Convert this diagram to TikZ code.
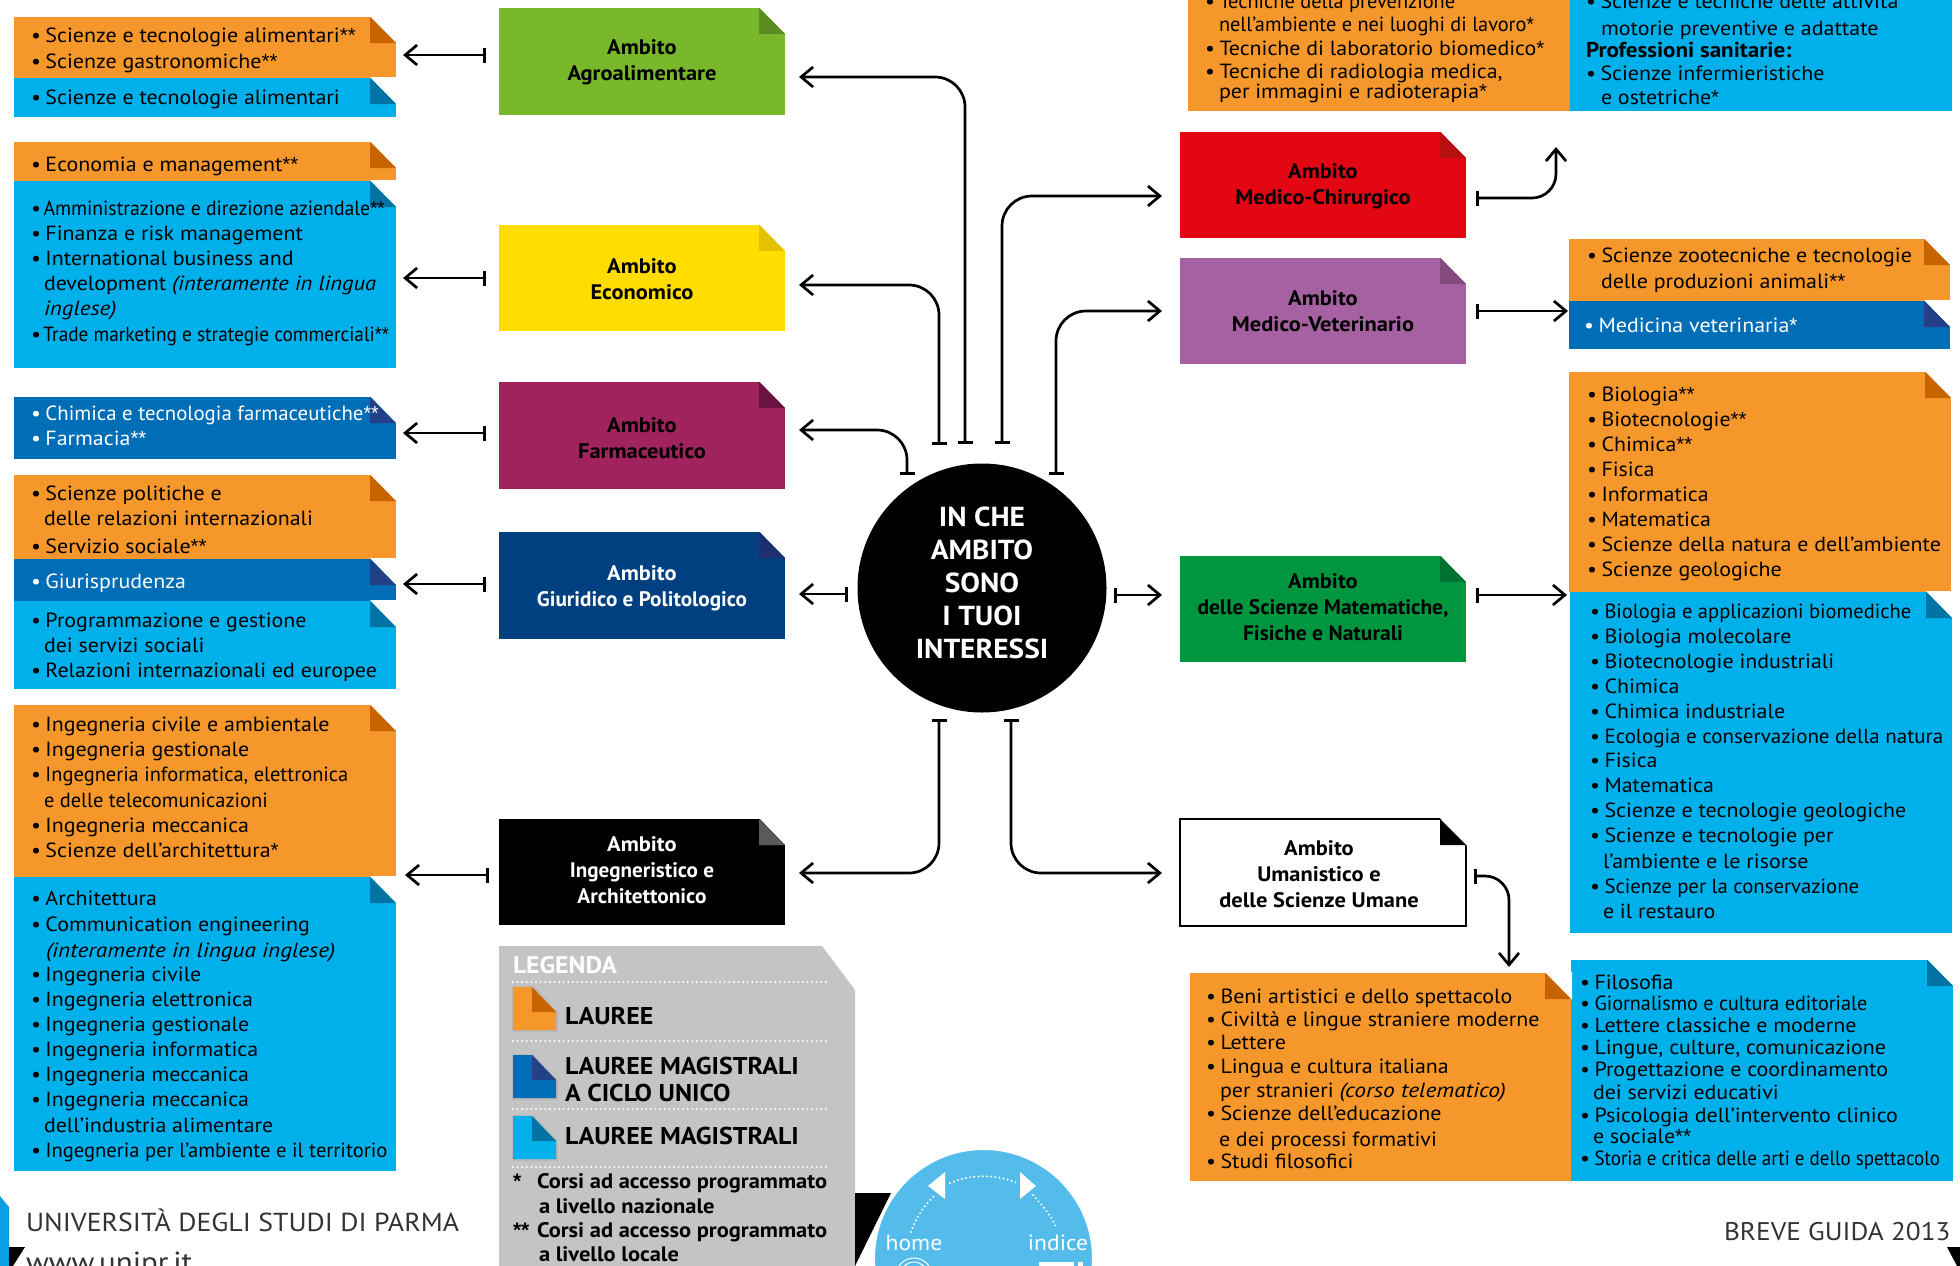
\documentclass[tikz,border=0pt]{standalone}
\usepackage{fontspec}
\usepackage{graphicx}
\setmainfont[FakeStretch=1.07]{PT Sans}
\newfontfamily\starf{Liberation Sans}
\newcommand{\st}{{\starf *}}
\usetikzlibrary{arrows.meta,calc}
\definecolor{ora}{HTML}{F5972A}\definecolor{oraD}{HTML}{C76400}
\definecolor{lbl}{HTML}{00B0EB}\definecolor{lblD}{HTML}{0072A3}
\definecolor{dbl}{HTML}{006DB7}\definecolor{dblD}{HTML}{244086}
\definecolor{agr}{HTML}{78B82A}\definecolor{agrD}{HTML}{5A8C20}
\definecolor{eco}{HTML}{FFDD00}\definecolor{ecoD}{HTML}{E3C300}
\definecolor{far}{HTML}{A0235E}\definecolor{farD}{HTML}{6A1340}
\definecolor{giu}{HTML}{004080}\definecolor{giuD}{HTML}{1C2F6E}
\definecolor{med}{HTML}{E30613}\definecolor{medD}{HTML}{B50F10}
\definecolor{vet}{HTML}{A661A3}\definecolor{vetD}{HTML}{844A80}
\definecolor{sci}{HTML}{009640}\definecolor{sciD}{HTML}{007332}
\definecolor{ingD}{HTML}{5A5A5A}
\definecolor{leg}{HTML}{C4C4C4}
\definecolor{nav}{HTML}{53BCEB}
\definecolor{foot}{HTML}{0A9FE0}
\newcount\tn
\newcommand{\plainb}[7][]{\node[boxn,fill=#7,minimum width={(#5-#3)*1pt},minimum height={(#6-#4)*1pt},#1] (#2) at ({(#3+#5)/2},{(#4+#6)/2}) {};}
\newcommand{\foldb}[8][]{\node[boxn,fill=#7,minimum width={(#5-#3)*1pt},minimum height={(#6-#4)*1pt},#1] (#2) at ({(#3+#5)/2},{(#4+#6)/2}) {};
 \fill[white] (#2.north east) ++(-26,-1) -- ++(27,0) -- ++(0,28) -- cycle;
 \fill[#8] (#2.north east) ++(-26,0) -- ++(26,26) -- ++(-26,0) -- cycle;}
\newcommand{\tl}[4][]{\global\advance\tn by 1 \node[txt,#1] (t\the\tn) at (#2,#3) {#4};}
\newcommand{\li}[4][]{\global\advance\tn by 1 \node[txt,#1] (t\the\tn) at (#2,#3) {\makebox[14.5pt][l]{•}#4};}
\newcommand{\cz}[2]{\scalebox{#1}[1]{#2}}
\tikzset{
 boxn/.style={rectangle,inner sep=0pt,outer sep=0pt,align=center,font=\fontsize{21}{26}\selectfont\bfseries},
 txt/.style={anchor=base west,inner sep=0pt,outer sep=0pt,font=\fontsize{20.5}{25}\selectfont},
 wht/.style={text=white},
 conn/.style={line width=2.7pt,rounded corners=30pt,{Bar[width=15pt,line width=2.7pt]}-{Straight Barb[length=12pt,width=20pt,line width=2.7pt]}},
 leglab/.style={txt,font=\fontsize{24.3}{28}\selectfont\bfseries},
 notes/.style={txt,font=\fontsize{21}{24}\selectfont\bfseries},
 dots/.style={white,line width=2.2pt,line cap=round,dash pattern=on 0pt off 4.6pt},
 foottxt/.style={txt,text=black!80,font=\fontsize{26}{30}\selectfont}
}
\begin{document}
\begin{tikzpicture}[x=1pt,y=-1pt]
\useasboundingbox (0,0) rectangle (1960,1266);
\clip (0,0) rectangle (1960,1266);
% ---- list boxes, left
\foldb{a1}{14}{17}{396}{78}{ora}{oraD}
\foldb{a2}{14}{78}{396}{117}{lbl}{lblD}
\foldb{b1}{14}{142}{396}{181}{ora}{oraD}
\foldb{b2}{14}{181}{396}{368}{lbl}{lblD}
\foldb{c1}{14}{397}{396}{459}{dbl}{dblD}
\foldb{d1}{14}{475}{396}{559}{ora}{oraD}
\foldb{d2}{14}{559}{396}{601}{dbl}{dblD}
\foldb{d3}{14}{601}{396}{689}{lbl}{lblD}
\foldb{e1}{14}{705}{396}{877}{ora}{oraD}
\foldb{e2}{14}{877}{396}{1171}{lbl}{lblD}
% ---- list boxes, right
\plainb{f1}{1188}{0}{1570}{111}{ora}
\plainb{f2}{1570}{0}{1952}{111}{lbl}
\foldb{g1}{1569}{239}{1950}{301}{ora}{oraD}
\foldb{g2}{1569}{301}{1950}{349}{dbl}{dblD}
\foldb{h1}{1569}{372}{1951}{592}{ora}{oraD}
\foldb{h2}{1570}{592}{1952}{933}{lbl}{lblD}
\foldb{i2}{1571}{960}{1953}{1181}{lbl}{lblD}
\foldb{i1}{1190}{973}{1571}{1181}{ora}{oraD}
% ---- ambito boxes
\foldb{agro}{499}{8}{785}{115}{agr}{agrD}
\foldb{econ}{499}{225}{785}{331}{eco}{ecoD}
\foldb{farm}{499}{382}{785}{489}{far}{farD}
\foldb{giur}{499}{532}{785}{639}{giu}{giuD}
\foldb{inge}{499}{819}{785}{925}{black}{ingD}
\foldb{chir}{1180}{132}{1466}{238}{med}{medD}
\foldb{vete}{1180}{258}{1466}{364}{vet}{vetD}
\foldb{scie}{1180}{556}{1466}{662}{sci}{sciD}
\foldb[draw=black,line width=1.4pt]{uman}{1180}{819}{1466}{926}{white}{black}
\node[boxn] (agrotxt) at (642,62.7) {Ambito\\Agroalimentare};
\node[boxn] (econtxt) at (642,279) {Ambito\\Economico};
\node[boxn] (farmtxt) at (642,438.5) {Ambito\\Farmaceutico};
\node[boxn,text=white] (giurtxt) at (642,588) {Ambito\\\cz{.943}{Giuridico e Politologico}};
\node[boxn,text=white] (ingetxt) at (642,870) {Ambito\\\cz{.94}{Ingegneristico e}\\\cz{.95}{Architettonico}};
\node[boxn] (chirtxt) at (1323,186) {Ambito\\Medico-Chirurgico};
\node[boxn] (vetetxt) at (1323,311) {Ambito\\Medico-Veterinario};
\node[boxn] (scietxt) at (1323,607) {Ambito\\\cz{.955}{delle Scienze Matematiche,}\\\cz{.96}{Fisiche e Naturali}};
\node[boxn] (umantxt) at (1319,874) {Ambito\\Umanistico e\\delle Scienze Umane};
% ---- hub
\node[circle,fill=black,minimum size=249pt,inner sep=0pt] (hub) at (982,588) {};
\node[text=white,inner sep=0pt,align=center,font=\fontsize{27.5}{33}\selectfont\bfseries] (hubtxt) at (982,583) {IN CHE\\AMBITO\\SONO\\I TUOI\\INTERESSI};
% ---- list text, left
\li{31}{42}{Scienze e tecnologie alimentari\st\st}
\li{31}{68}{Scienze gastronomiche\st\st}
\li{31}{104}{Scienze e tecnologie alimentari}
\li{31}{171}{Economia e management\st\st}
\li{31}{215}{\hspace*{-2pt}\cz{.9}{Amministrazione e direzione aziendale\st\st}}
\li{31}{240}{Finanza e risk management}
\li{31}{265}{International business and}
\tl{44}{290}{development \cz{1.03}{\textit{(interamente in lingua}}}
\tl{44}{315}{\cz{1.05}{\textit{inglese)}}}
\li{31}{341}{\hspace*{-2pt}\cz{.88}{Trade marketing e strategie commerciali\st\st}}
\li[wht]{31}{420}{\cz{.95}{Chimica e tecnologia farmaceutiche\st\st}}
\li[wht]{31}{445}{Farmacia\st\st}
\li{31}{500}{Scienze politiche e}
\tl{44}{525}{delle relazioni internazionali}
\li{31}{553}{Servizio sociale\st\st}
\li[wht]{31}{588}{Giurisprudenza}
\li{31}{627}{Programmazione e gestione}
\tl{44}{652}{dei servizi sociali}
\li{31}{677}{Relazioni internazionali ed europee}
\li{31}{731}{Ingegneria civile e ambientale}
\li{31}{756}{Ingegneria gestionale}
\li{31}{781}{\cz{.932}{Ingegneria informatica, elettronica}}
\tl{44}{807}{\cz{.932}{e delle telecomunicazioni}}
\li{31}{832}{Ingegneria meccanica}
\li{31}{857}{Scienze dell'architettura\st}
\li{31}{905}{Architettura}
\li{31}{931}{Communication engineering}
\tl{46}{957}{\cz{1.06}{\textit{(interamente in lingua inglese)}}}
\li{31}{981}{Ingegneria civile}
\li{31}{1006}{Ingegneria elettronica}
\li{31}{1031}{Ingegneria gestionale}
\li{31}{1056}{Ingegneria informatica}
\li{31}{1081}{Ingegneria meccanica}
\li{31}{1106}{Ingegneria meccanica}
\tl{44}{1132}{dell'industria alimentare}
\li{31}{1157}{\cz{.94}{Ingegneria per l'ambiente e il territorio}}
% ---- list text, right
\li{1205}{9}{\cz{.93}{Tecniche della prevenzione}}
\tl{1219}{31}{\cz{.926}{nell'ambiente e nei luoghi di lavoro\st}}
\li{1205}{55}{Tecniche di laboratorio biomedico\st}
\li{1205}{78}{Tecniche di radiologia medica,}
\tl{1219}{98}{per immagini e radioterapia\st}
\li{1586}{9}{Scienze e tecniche delle attività}
\tl{1601}{35}{motorie preventive e adattate}
\tl[font=\fontsize{21.5}{25}\selectfont\bfseries]{1586}{57}{Professioni sanitarie:}
\li{1586}{80}{Scienze infermieristiche}
\tl{1601}{104}{e ostetriche\st}
\li{1587}{262}{Scienze zootecniche e tecnologie}
\tl{1601}{288}{delle produzioni animali\st\st}
\li[wht]{1584}{332}{Medicina veterinaria\st}
\li{1587}{401}{Biologia\st\st}
\li{1587}{426}{Biotecnologie\st\st}
\li{1587}{451}{Chimica\st\st}
\li{1587}{476}{Fisica}
\li{1587}{501}{Informatica}
\li{1587}{526}{Matematica}
\li{1587}{551}{Scienze della natura e dell'ambiente}
\li{1587}{576}{Scienze geologiche}
\li{1590}{618}{\cz{.935}{Biologia e applicazioni biomediche}}
\li{1590}{643}{Biologia molecolare}
\li{1590}{668}{Biotecnologie industriali}
\li{1590}{693}{Chimica}
\li{1590}{718}{Chimica industriale}
\li{1590}{743}{\cz{.956}{Ecologia e conservazione della natura}}
\li{1590}{767}{Fisica}
\li{1590}{792}{Matematica}
\li{1590}{817}{Scienze e tecnologie geologiche}
\li{1590}{842}{Scienze e tecnologie per}
\tl{1603}{868}{l'ambiente e le risorse}
\li{1590}{893}{\cz{.945}{Scienze per la conservazione}}
\tl{1603}{918}{e il restauro}
\li{1206}{1003}{Beni artistici e dello spettacolo}
\li{1206}{1026}{Civiltà e lingue straniere moderne}
\li{1206}{1049}{Lettere}
\li{1206}{1073}{Lingua e cultura italiana}
\tl{1220}{1097}{per stranieri \cz{1.07}{\textit{(corso telematico)}}}
\li{1206}{1120}{Scienze dell'educazione}
\tl{1219}{1146}{e dei processi formativi}
\li{1206}{1168}{Studi filosofici}
\li{1580}{989}{Filosofia}
\li{1580}{1010}{\cz{.92}{Giornalismo e cultura editoriale}}
\li{1580}{1032}{Lettere classiche e moderne}
\li{1580}{1054}{Lingue, culture, comunicazione}
\li{1580}{1076}{Progettazione e coordinamento}
\tl{1593}{1099}{dei servizi educativi}
\li{1580}{1122}{Psicologia dell'intervento clinico}
\tl{1593}{1143}{e sociale\st\st}
\li{1580}{1165}{\cz{.865}{Storia e critica delle arti e dello spettacolo}}
% ---- legend
\fill[leg] (499,946) -- (822,946) -- (855,990) -- (855,1266) -- (499,1266) -- cycle;
\fill[black] (855,1193) -- (891,1193) -- (855,1266) -- cycle;
\tl[wht,font=\fontsize{24}{28}\selectfont\bfseries]{513}{973}{LEGENDA}
\draw[dots] (513,982) -- (830,982);
\draw[dots] (513,1041) -- (830,1041);
\draw[dots] (513,1109) -- (830,1109);
\draw[dots] (513,1167) -- (830,1167);
\fill[black!28] (511.5,985.5) rectangle (557.5,1031.5);
\fill[black!28] (511.5,1053.5) rectangle (557.5,1099.5);
\fill[black!28] (511.5,1114.5) rectangle (557.5,1160.5);
\fill[leg] (532,984) -- (558,984) -- (558,1012) -- cycle;
\fill[leg] (532,1052) -- (558,1052) -- (558,1080) -- cycle;
\fill[leg] (532,1113) -- (558,1113) -- (558,1141) -- cycle;
\fill[ora] (513,987) -- (532,987) -- (556,1012) -- (556,1030) -- (513,1030) -- cycle;
\fill[oraD] (532,987) -- (556,1012) -- (532,1012) -- cycle;
\fill[dbl] (513,1055) -- (532,1055) -- (556,1080) -- (556,1098) -- (513,1098) -- cycle;
\fill[dblD] (532,1055) -- (556,1080) -- (532,1080) -- cycle;
\fill[lbl] (513,1116) -- (532,1116) -- (556,1141) -- (556,1159) -- (513,1159) -- cycle;
\fill[lblD] (532,1116) -- (556,1141) -- (532,1141) -- cycle;
\tl[leglab]{565}{1024}{LAUREE}
\tl[leglab]{565}{1074}{LAUREE MAGISTRALI}
\tl[leglab]{565}{1101}{A CICLO UNICO}
\tl[leglab]{565}{1144}{LAUREE MAGISTRALI}
\tl[notes]{513}{1188}{\st}
\tl[notes]{537}{1188}{Corsi ad accesso programmato}
\tl[notes]{539}{1213}{a livello nazionale}
\tl[notes]{513}{1237}{\st\st}
\tl[notes]{537}{1237}{Corsi ad accesso programmato}
\tl[notes]{539}{1261}{a livello locale}
% ---- navigation disc
\node[circle,fill=nav,draw=white,line width=2pt,minimum size=219pt,inner sep=0pt] (disc) at (983.5,1258.5) {};
\fill[white] (945,1172) -- (945,1199) -- (928,1186) -- cycle;
\fill[white] (1020,1172) -- (1020,1199) -- (1036,1186) -- cycle;
\draw[dots,dash pattern=on 0pt off 4.2pt] (911,1232) .. controls (917,1215) and (925,1205) .. (935,1195);
\draw[dots,dash pattern=on 0pt off 4.2pt] (950,1183) .. controls (970,1174) and (997,1174) .. (1017,1183);
\draw[dots,dash pattern=on 0pt off 4.2pt] (1033,1195) .. controls (1042,1205) and (1051,1215) .. (1056,1227);
\node[txt,wht,anchor=base,font=\fontsize{22}{28}\selectfont] (homet) at (914,1250) {home};
\node[txt,wht,anchor=base,font=\fontsize{22}{28}\selectfont] (indicet) at (1058,1250) {indice};
\node[circle,draw=white,line width=1pt,minimum size=36pt,inner sep=0pt] (seal) at (914,1276) {};
\node[circle,draw=white,line width=1pt,minimum size=28pt,inner sep=0pt] (sealin) at (914,1276) {};
\fill[white] (1039,1262) rectangle (1074,1266);
\fill[white] (1078,1262) rectangle (1083,1266);
% ---- footer
\fill[foot] (0,1196) -- (9,1207) -- (9,1266) -- (0,1266) -- cycle;
\fill[black] (9,1247) -- (25,1247) -- (13,1266) -- (9,1266) -- cycle;
\tl[foottxt]{26}{1231}{UNIVERSITÀ DEGLI STUDI DI PARMA}
\tl[foottxt,font=\fontsize{29}{34}\selectfont]{26}{1272}{www.unipr.it}
\tl[foottxt,font=\fontsize{25.5}{30}\selectfont]{1724}{1240}{BREVE GUIDA 2013}
\fill[black] (1947,1247) -- (1960,1247) -- (1960,1266) -- (1957,1266) -- cycle;
% ---- connector ends
\coordinate (pa1) at (486,55);\coordinate (qa1) at (403,55);
\coordinate (pa2) at (486,278);\coordinate (qa2) at (403,278);
\coordinate (pa3) at (486,433);\coordinate (qa3) at (403,433);
\coordinate (pa4) at (486,584);\coordinate (qa4) at (403,584);
\coordinate (pa5) at (489,875);\coordinate (qa5) at (405,875);
\coordinate (hA) at (965,444);\coordinate (agroP) at (799,77);
\coordinate (hE) at (939,445);\coordinate (econP) at (799,285);
\coordinate (hF) at (907,475);\coordinate (farmP) at (799,430);
\coordinate (hG) at (848,594);\coordinate (giurP) at (799,594);
\coordinate (hC) at (1002,444);\coordinate (chirP) at (1162,196);
\coordinate (hV) at (1056,475);\coordinate (veteP) at (1162,311);
\coordinate (hS) at (1114,595);\coordinate (scieP) at (1162,595);
\coordinate (hI) at (939,719);\coordinate (ingeP) at (799,873);
\coordinate (hU) at (1011,719);\coordinate (umanP) at (1162,873);
\coordinate (chirO) at (1476,198);\coordinate (chirT) at (1556,147);
\coordinate (veteO) at (1476,311);\coordinate (veteT) at (1568,311);
\coordinate (scieO) at (1476,595);\coordinate (scieT) at (1567,595);
\coordinate (umanO) at (1474,876);\coordinate (umanT) at (1509,967);
% ---- connectors
\draw[conn] (pa1) -- (qa1);
\draw[conn] (pa2) -- (qa2);
\draw[conn] (pa3) -- (qa3);
\draw[conn] (pa4) -- (qa4);
\draw[conn] (pa5) -- (qa5);
\draw[conn] (hA) |- (agroP);
\draw[conn] (hE) |- (econP);
\draw[conn] (hF) |- (farmP);
\draw[conn] (hG) -- (giurP);
\draw[conn] (hC) |- (chirP);
\draw[conn] (hV) |- (veteP);
\draw[conn] (hS) -- (scieP);
\draw[conn] (hI) |- (ingeP);
\draw[conn] (hU) |- (umanP);
\draw[conn,rounded corners=24pt] (chirO) -| (chirT);
\draw[conn] (veteO) -- (veteT);
\draw[conn] (scieO) -- (scieT);
\draw[conn,rounded corners=24pt] (umanO) -| (umanT);
\end{tikzpicture}
\end{document}
